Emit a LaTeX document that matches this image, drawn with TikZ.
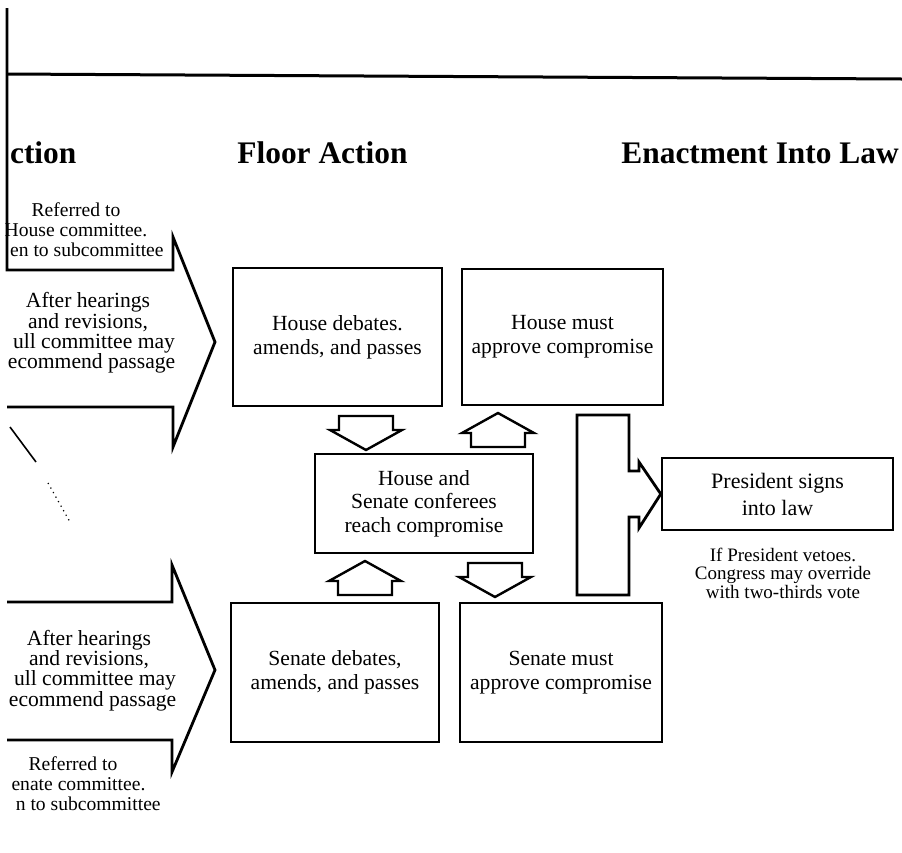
\documentclass[tikz,border=0pt]{standalone}
\usepackage{fontspec}
\setmainfont{Liberation Serif}

\begin{document}
\begin{tikzpicture}[x=0.5pt, y=-0.5pt]
 \tikzset{
stage/.style = {rectangle, draw=black, line width=1.2pt, align=center, font=\fontsize{10.8}{11.8}\selectfont},
note/.style = {align=center, inner sep=0pt, font=\fontsize{9.8}{10}\selectfont},
arrowtext/.style = {align=center, inner sep=0pt, font=\fontsize{10.8}{10.2}\selectfont},
heading/.style = {anchor=base west, inner sep=0pt, font=\fontsize{15.7}{18}\selectfont\bfseries},
bigarrow/.style = {draw=black, line width=1.4pt},
fatdown/.pic = {\draw [line width=1.2pt] (-27,0) -- (27,0) -- (27,14) -- (36,14) -- (0,34) -- (-36,14) -- (-27,14) -- cycle;}}

\useasboundingbox (0,0) rectangle (902,853);

    % rule and column titles
    \draw [line width=1.5pt] (7,74) -- (902,79);
    \node [heading] (headcom) at (-13,163) {\hphantom{A}ction};
    \node [heading] (headfloor) at (237,163) {Floor Action};
    \node [heading] (headlaw) at (621,163) {Enactment Into Law};

    % committee arrows
    \draw [bigarrow] (7,8) -- (7,270) -- (173,270) -- (173,237) -- (215,342) -- (173,447) -- (173,407) -- (7,407);
    \draw [bigarrow] (7,602) -- (172,602) -- (172,565) -- (215,670) -- (172,772) -- (172,740) -- (7,740);
    \draw [line width=0.8pt] (10,427) -- (36,462);
    \draw [line width=0.6pt, dotted] (48,483) -- (70,522);

     \node [note] (hrefer) at (76,230) {Referred to\\House committee.\\\hphantom{Th}en to subcommittee};
     \node [arrowtext] (hcomm) at (88,333) {After hearings\\and revisions,\\\hphantom{F}ull committee may\\\hphantom{r}ecommend passage};
     \node [arrowtext] (scomm) at (89,670.5) {After hearings\\and revisions,\\\hphantom{F}ull committee may\\\hphantom{r}ecommend passage};
     \node [note] (srefer) at (73,784) {Referred to\\\hphantom{S}enate committee.\\\hphantom{The}n to subcommittee};

    % floor action
      \node [stage, minimum width=104.5pt, minimum height=69pt] (hdeb) at (337.5,337) {House debates.\\amends, and passes};
      \node [stage, minimum width=100.5pt, minimum height=68pt] (hmust) at (562.5,337) {House must\\approve compromise};
      \node [stage, minimum width=109pt, minimum height=49.5pt] (conf) at (424,503.5) {House and\\Senate conferees\\reach compromise};
      \node [stage, minimum width=104pt, minimum height=69.5pt] (sdeb) at (335,672.5) {Senate debates,\\amends, and passes};
      \node [stage, minimum width=101pt, minimum height=69.5pt] (smust) at (561,672.5) {Senate must\\approve compromise};

      \pic at (366,416) {fatdown};
      \pic [rotate=180] at (498,447) {fatdown};
      \pic [rotate=180] at (365,595) {fatdown};
      \pic at (495,563) {fatdown};

    % enactment
      \node [stage, minimum width=115.5pt, minimum height=36pt, font=\fontsize{11}{13.5}\selectfont] (pres) at (777.5,494) {President signs\\into law};
      \node [note, font=\fontsize{9.5}{9.3}\selectfont] (veto) at (783,573) {If President vetoes.\\Congress may override\\with two-thirds vote};

      \draw [bigarrow] (577,415) -- (629,415) -- (629,471) -- (639,471) -- (639,462) -- (pres.west) -- (639,528) -- (639,517) -- (629,517) -- (629,595) -- (577,595) -- cycle;

  \end{tikzpicture}
\end{document}
